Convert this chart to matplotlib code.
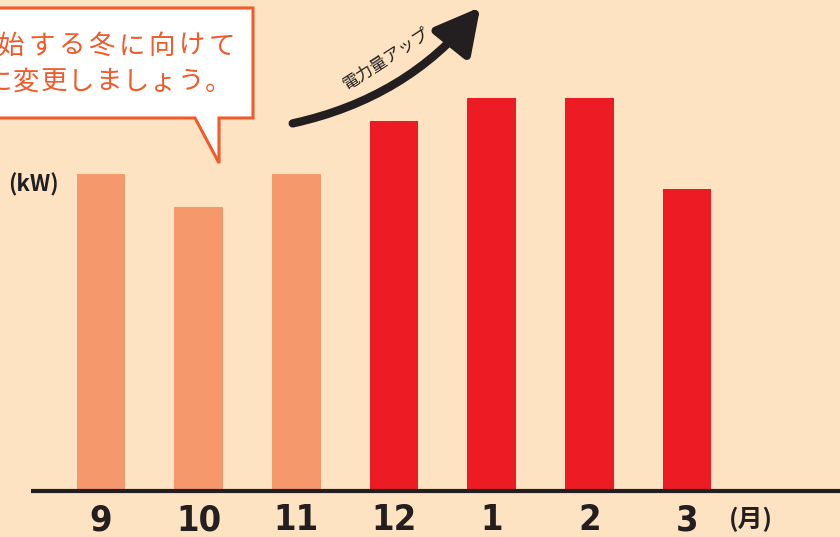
import matplotlib.pyplot as plt
from matplotlib.patches import Polygon, FancyArrowPatch
import numpy as np

# Data (relative heights, no y scale shown)
months = ['9', '10', '11', '12', '1', '2', '3']
usage = [317, 284, 317, 370, 393, 393, 302]
winter = [False, False, False, True, True, True, True]

BG = '#fde3c2'
LIGHT = '#f5996d'
RED = '#ed1c24'
ORANGE = '#f15a29'
INK = '#231f20'

fig = plt.figure(figsize=(8.4, 5.37), dpi=100, facecolor=BG)

# main axes: bars, baseline at y=491 px from top
ax = fig.add_axes([0, 46 / 537, 1, 491 / 537])
ax.set_facecolor(BG)
x = np.arange(len(months))
colors = [RED if w else LIGHT for w in winter]
ax.bar(x, usage, width=0.5, color=colors, zorder=2)
ax.set_xlim(-1.034, 7.566)
ax.set_ylim(0, 491)
ax.set_yticks([])
for s in ax.spines.values():
    s.set_visible(False)
ax.set_xticks(x, months, fontsize=26, fontweight='bold', color=INK,
              fontstretch='condensed', family=['DejaVu Sans'])
ax.tick_params(axis='x', length=0, pad=9)

# overlay in pixel coordinates for annotations
ov = fig.add_axes([0, 0, 1, 1], facecolor='none')
ov.set_xlim(0, 840)
ov.set_ylim(537, 0)
ov.axis('off')

ov.plot([31, 840], [491, 491], color=INK, lw=3, solid_capstyle='butt')
ov.text(751, 519, '(月)', fontsize=18, fontweight='bold', color=INK,
        ha='center', va='center', family=['Noto Sans CJK JP', 'DejaVu Sans'])
ov.text(8, 185, '(kW)', fontsize=16, fontweight='bold', color=INK,
        ha='left', va='center', family=['Noto Sans CJK JP', 'DejaVu Sans'])

# speech bubble
bubble = Polygon([(-10, 8), (253, 8), (253, 118), (219, 118), (219, 163),
                  (195, 118), (-10, 118)], closed=True,
                 facecolor='white', edgecolor=ORANGE, lw=2.2, zorder=3)
ov.add_patch(bubble)
line1 = '開始する冬に向けて'
line2 = '量に変更しましょう。'
for i, ch in enumerate(line1):
    ov.text(222 - (len(line1) - 1 - i) * 30.1, 46, ch, fontsize=19,
            color=ORANGE, ha='center', va='center', zorder=4,
            family=['Noto Sans CJK JP', 'DejaVu Sans'])
for i, ch in enumerate(line2):
    ov.text(218 - (len(line2) - 1 - i) * 27.4, 82, ch, fontsize=19,
            color=ORANGE, ha='center', va='center', zorder=4,
            family=['Noto Sans CJK JP', 'DejaVu Sans'])

# rising arrow
arrow = FancyArrowPatch((290, 124), (482, 5),
                        connectionstyle='arc3,rad=0.18',
                        arrowstyle='-|>,head_length=0.6,head_width=0.32',
                        mutation_scale=45, lw=6, color=INK,
                        capstyle='round', zorder=4)
ov.add_patch(arrow)
ov.text(386, 59, '電力量アップ', fontsize=12, color=INK, rotation=33,
        ha='center', va='center', family=['Noto Sans CJK JP', 'DejaVu Sans'])

fig.savefig('out.png', dpi=100, facecolor=BG)
